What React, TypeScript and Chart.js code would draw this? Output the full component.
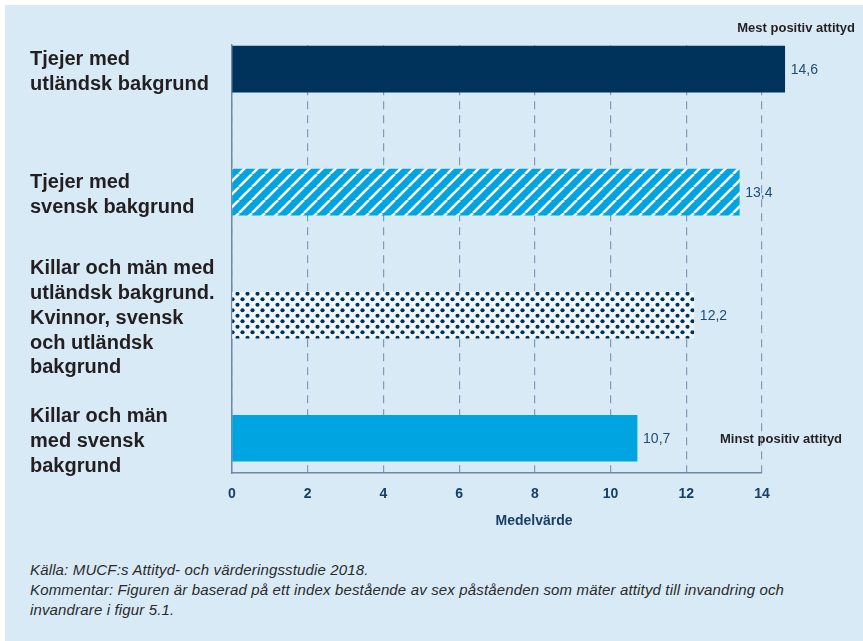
import React, { useEffect, useRef } from "react";
import { Chart, registerables } from "chart.js";

Chart.register(...registerables);

const categories: string[][] = [
  ["Tjejer med", "utländsk bakgrund"],
  ["Tjejer med", "svensk bakgrund"],
  ["Killar och män med", "utländsk bakgrund.", "Kvinnor, svensk", "och utländsk", "bakgrund"],
  ["Killar och män", "med svensk", "bakgrund"],
];
const values: number[] = [14.6, 13.4, 12.2, 10.7];
const valueLabels: string[] = ["14,6", "13,4", "12,2", "10,7"];
const xTicks: number[] = [0, 2, 4, 6, 8, 10, 12, 14];
const axisTitle = "Medelvärde";
const topNote = "Mest positiv attityd";
const bottomNote = "Minst positiv attityd";
const sourceLines: string[] = [
  "Källa: MUCF:s Attityd- och värderingsstudie 2018.",
  "Kommentar: Figuren är baserad på ett index bestående av sex påståenden som mäter attityd till invandring och",
  "invandrare i figur 5.1.",
];

const NAVY = "#00335c";
const CYAN = "#00a4e0";
const BG = "#d9eaf7";

function makeHatch(): CanvasPattern | string {
  const c = document.createElement("canvas");
  const s = 13;
  c.width = s;
  c.height = s;
  const g = c.getContext("2d");
  if (!g) return CYAN;
  g.fillStyle = CYAN;
  g.fillRect(0, 0, s, s);
  g.strokeStyle = "#ffffff";
  g.lineWidth = 2.6;
  for (const o of [-s, 0, s]) {
    g.beginPath();
    g.moveTo(o, s);
    g.lineTo(o + s, 0);
    g.stroke();
  }
  const p = g.createPattern(c, "repeat");
  return p || CYAN;
}

function makeDots(): CanvasPattern | string {
  const c = document.createElement("canvas");
  const w = 10;
  const h = 11;
  c.width = w;
  c.height = h;
  const g = c.getContext("2d");
  if (!g) return NAVY;
  g.fillStyle = "#eef6fc";
  g.fillRect(0, 0, w, h);
  g.fillStyle = NAVY;
  const dots = [
    [2.5, 2.75],
    [7.5, 8.25],
  ];
  for (const [x, y] of dots) {
    g.beginPath();
    g.arc(x, y, 2.1, 0, Math.PI * 2);
    g.fill();
  }
  const p = g.createPattern(c, "repeat");
  return p || NAVY;
}

export default function App() {
  const ref = useRef<HTMLCanvasElement | null>(null);

  useEffect(() => {
    document.body.style.margin = "0";
    document.body.style.background = "#ffffff";
    const canvas = ref.current;
    if (!canvas) return;

    const fills = [NAVY, makeHatch(), makeDots(), CYAN];

    const annot = {
      id: "annot",
      afterDatasetsDraw(chart: any) {
        const ctx = chart.ctx;
        const xs = chart.scales.x;
        const ys = chart.scales.y;
        ctx.save();
        ctx.font = "14px 'Liberation Sans', Arial, sans-serif";
        ctx.fillStyle = "#1d4c78";
        ctx.textAlign = "left";
        ctx.textBaseline = "middle";
        values.forEach((v, i) => {
          ctx.fillText(valueLabels[i], xs.getPixelForValue(v) + 6, ys.getPixelForValue(i) + 1);
        });
        ctx.font = "bold 13px 'Liberation Sans', Arial, sans-serif";
        ctx.fillStyle = "#231f20";
        ctx.textAlign = "right";
        ctx.fillText(topNote, 850, chart.chartArea.top - 17);
        ctx.textAlign = "left";
        ctx.fillText(bottomNote, 715, ys.getPixelForValue(3) + 1);
        ctx.font = "bold 14px 'Liberation Sans', Arial, sans-serif";
        ctx.fillStyle = "#173f66";
        ctx.textAlign = "center";
        ctx.fillText(axisTitle, (xs.left + xs.right) / 2 + 37, chart.chartArea.bottom + 48);
        ctx.restore();
      },
    };

    const chart = new Chart(canvas, {
      type: "bar",
      data: {
        datasets: [
          {
            data: values.map((v, i) => ({ x: v, y: i })),
            backgroundColor: fills as any,
            borderWidth: 0,
            barThickness: 46,
            clip: false,
          },
        ],
      },
      options: {
        indexAxis: "y",
        animation: false,
        responsive: false,
        maintainAspectRatio: false,
        layout: { padding: { left: 25, right: 101, top: 37, bottom: 0 } },
        plugins: {
          legend: { display: false },
          tooltip: { enabled: false },
          title: { display: false },
        },
        scales: {
          x: {
            type: "linear",
            min: 0,
            max: 14,
            offset: false,
            afterBuildTicks: (s: any) => {
              s.ticks = xTicks.map((v) => ({ value: v }));
            },
            afterFit: (s: any) => {
              s.height = 72;
            },
            ticks: {
              padding: 13,
              color: "#173f66",
              font: { family: "'Liberation Sans', Arial, sans-serif", size: 14, weight: "bold" },
            },
            grid: {
              offset: false,
              color: "#7f9bb6",
              lineWidth: 1.2,
              drawTicks: false,
            },
            border: { display: true, color: "#6f8aa6", width: 1.5, dash: [8, 6] } as any,
          },
          y: {
            type: "linear",
            reverse: true,
            offset: false,
            min: -0.194,
            max: 3.282,
            afterBuildTicks: (s: any) => {
              s.ticks = categories.map((_, i) => ({ value: i }));
            },
            afterFit: (s: any) => {
              s.width = 202;
            },
            ticks: {
              autoSkip: false,
              crossAlign: "far",
              labelOffset: 3,
              color: "#231f20",
              font: { family: "'Liberation Sans', Arial, sans-serif", size: 20, weight: "bold", lineHeight: 1.24 },
              callback: (v: any) => categories[Math.round(Number(v))] as any,
            },
            grid: { display: false, drawTicks: false, offset: false },
            border: { display: true, color: "#6f8aa6", width: 1.5 },
          },
        },
      },
      plugins: [annot],
    } as any);

    return () => chart.destroy();
  }, []);

  return (
    <div style={{ width: 863, height: 641, background: "#fff", position: "relative", overflow: "hidden" }}>
      <div style={{ position: "absolute", left: 5, top: 5, width: 858, height: 636, background: BG }}>
        <canvas ref={ref} width={858} height={540} style={{ display: "block", width: 858, height: 540 }} />
        <div
          style={{
            position: "absolute",
            left: 25,
            top: 555,
            fontFamily: "'Liberation Sans', Arial, sans-serif",
            fontStyle: "italic",
            fontSize: 15,
            letterSpacing: "0.15px",
            lineHeight: "20px",
            color: "#2a2a2a",
            whiteSpace: "nowrap",
          }}
        >
          {sourceLines.map((l, i) => (
            <div key={i}>{l}</div>
          ))}
        </div>
      </div>
    </div>
  );
}
